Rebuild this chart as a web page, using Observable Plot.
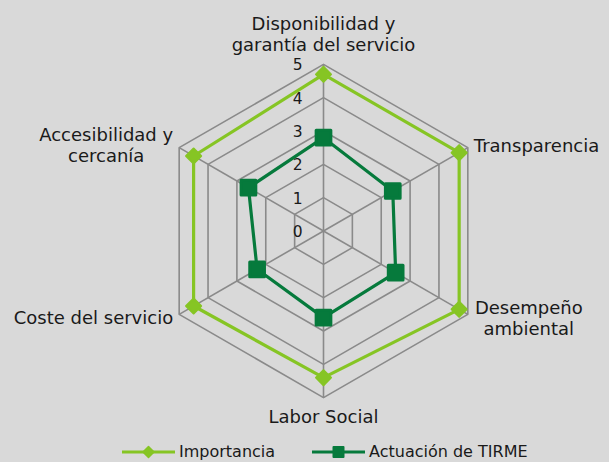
<!DOCTYPE html>
<html>
<head>
<meta charset="utf-8">
<script src="https://cdn.jsdelivr.net/npm/d3@7"></script>
<script src="https://cdn.jsdelivr.net/npm/@observablehq/plot@0.6"></script>
<style>
  html, body { margin: 0; padding: 0; background: #d9d9d9; }
  #chart { width: 609px; height: 462px; overflow: hidden; font-family: "DejaVu Sans", Verdana, sans-serif; }
  #legend { height: 22px; display: flex; align-items: center; font-size: 16px; color: #1a1a1a; position: relative; }
  .item { position: absolute; display: flex; align-items: center; top: 2px; }
  .item svg { display: block; margin-right: 4px; }
</style>
</head>
<body>
<div id="chart"></div>
<script>
// ---- data ----
const categories = [
  "Disponibilidad y\ngarantía del servicio",
  "Transparencia",
  "Desempeño\nambiental",
  "Labor Social",
  "Coste del servicio",
  "Accesibilidad y\ncercanía"
];
const importancia = [4.7, 4.7, 4.7, 4.4, 4.5, 4.5];
const actuacion = [2.8, 2.4, 2.5, 2.6, 2.3, 2.6];
const seriesNames = ["Importancia", "Actuación de TIRME"];
const tickLabels = [0, 1, 2, 3, 4, 5];

// ---- styling / layout ----
const colors = {"Importancia": "#86c524", "Actuación de TIRME": "#067a3c"};
const gridColor = "#8a8a8a";
const W = 609, H = 440;
const cx = 323, cy = 230.5, unit = 33.33;
const n = categories.length;
const ang = i => (i / n) * 2 * Math.PI;
const px = (i, r) => r * Math.sin(ang(i));
const py = (i, r) => r * Math.cos(ang(i));
const maxR = d3.max(tickLabels);

// label offsets (pixels) relative to outer vertex
const labelLayout = [
  {anchor: "middle", dx: 0, dy: -31},
  {anchor: "start", dx: 6, dy: -2},
  {anchor: "middle", dx: 61, dy: 3},
  {anchor: "middle", dx: 0, dy: 19},
  {anchor: "end", dx: -6, dy: 3},
  {anchor: "middle", dx: -73, dy: -3}
];

// grid rings
const rings = [];
for (const t of tickLabels.filter(t => t > 0)) {
  for (let i = 0; i < n; i++) rings.push({level: t, i});
}
const spokes = categories.map((c, i) => ({i}));

const series = [];
seriesNames.forEach((s, k) => {
  const vals = k === 0 ? importancia : actuacion;
  vals.forEach((v, i) => series.push({series: s, i, v}));
});

const plot = Plot.plot({
  width: W, height: H,
  margin: 0,
  style: {background: "transparent", fontFamily: '"DejaVu Sans", Verdana, sans-serif', overflow: "visible"},
  x: {domain: [(0 - cx) / unit, (W - cx) / unit], axis: null},
  y: {domain: [-(H - cy) / unit, cy / unit], axis: null},
  marks: [
    Plot.line(rings, {x: d => px(d.i, d.level), y: d => py(d.i, d.level), z: "level", curve: "linear-closed", stroke: gridColor, strokeWidth: 1.6}),
    Plot.link(spokes, {x1: 0, y1: 0, x2: d => px(d.i, maxR), y2: d => py(d.i, maxR), stroke: gridColor, strokeWidth: 1.6}),
    Plot.text(tickLabels, {x: 0, y: d => d, text: d => String(d), textAnchor: "end", dx: -21, dy: 1, fontSize: 15.5, fill: "#1a1a1a"}),
    Plot.line(series, {x: d => px(d.i, d.v), y: d => py(d.i, d.v), z: "series", stroke: d => colors[d.series], curve: "linear-closed", strokeWidth: 3.2}),
    Plot.dot(series.filter(d => d.series === seriesNames[0]), {x: d => px(d.i, d.v), y: d => py(d.i, d.v), symbol: "diamond2", r: 6.8, fill: colors[seriesNames[0]], stroke: colors[seriesNames[0]], strokeWidth: 2, strokeLinejoin: "round"}),
    Plot.dot(series.filter(d => d.series === seriesNames[1]), {x: d => px(d.i, d.v), y: d => py(d.i, d.v), symbol: "square", r: 8.3, fill: colors[seriesNames[1]], stroke: colors[seriesNames[1]], strokeWidth: 3, strokeLinejoin: "round"}),
    ...categories.map((c, i) => Plot.text([c], {
      x: px(i, maxR), y: py(i, maxR), text: d => d,
      textAnchor: labelLayout[i].anchor, dx: labelLayout[i].dx, dy: labelLayout[i].dy,
      lineAnchor: "middle", lineHeight: 1.17, fontSize: 18, fill: "#1a1a1a"
    }))
  ]
});
document.getElementById("chart").appendChild(plot);

// legend
const legend = document.createElement("div");
legend.id = "legend";
const legendPos = [122, 312];
seriesNames.forEach((s, k) => {
  const item = document.createElement("div");
  item.className = "item";
  item.style.left = legendPos[k] + "px";
  const sym = k === 0
    ? `<path d="M26.5,3.5 L32,9 L26.5,14.5 L21,9 Z" fill="${colors[s]}" stroke="${colors[s]}" stroke-width="1.5" stroke-linejoin="round"/>`
    : `<rect x="21.5" y="4" width="10" height="10" fill="${colors[s]}" stroke="${colors[s]}" stroke-width="2" stroke-linejoin="round"/>`;
  item.innerHTML = `<svg width="53" height="18"><line x1="0" y1="9" x2="53" y2="9" stroke="${colors[s]}" stroke-width="3.2"/>${sym}</svg><span>${s}</span>`;
  legend.appendChild(item);
});
document.getElementById("chart").appendChild(legend);
</script>
</body>
</html>
